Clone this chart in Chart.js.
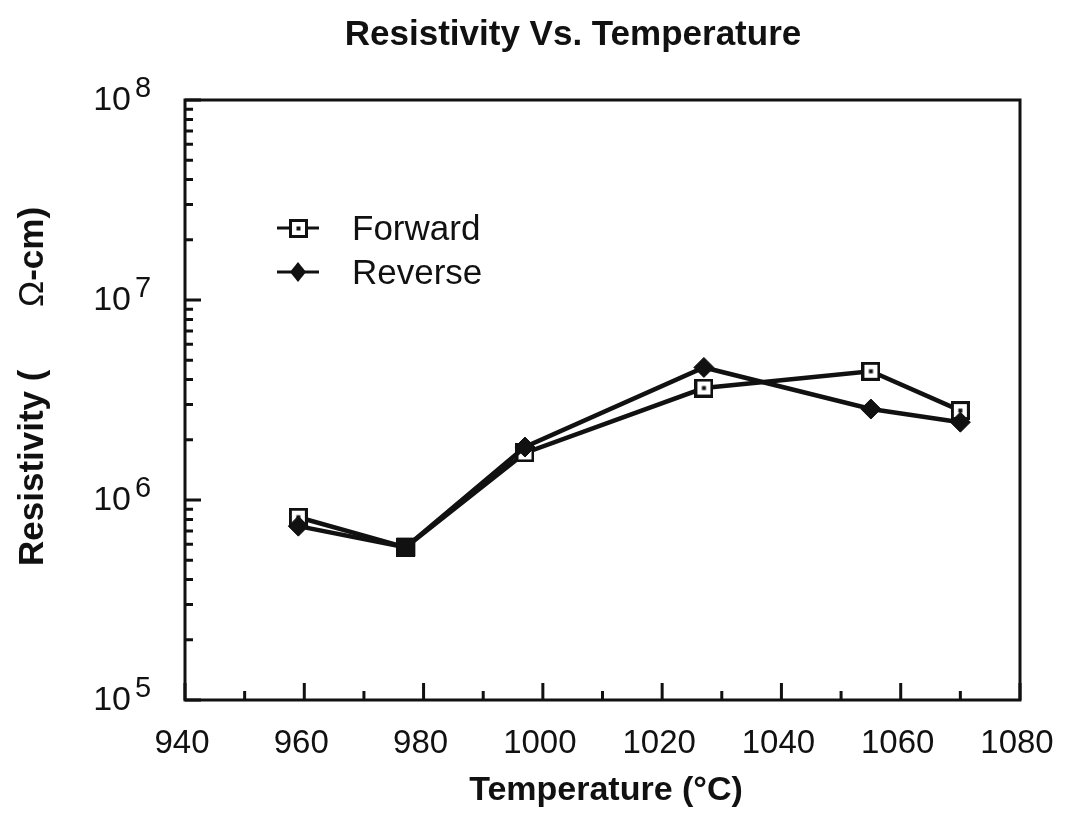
<!DOCTYPE html>
<html>
<head>
<meta charset="utf-8">
<title>Resistivity Vs. Temperature</title>
<script src="https://cdn.jsdelivr.net/npm/chart.js@4.4.1/dist/chart.umd.min.js"></script>
<style>
    body { margin: 0; background: #fff; }
    #wrap { width: 1067px; height: 816px; }
</style>
</head>
<body>
<div id="wrap"><canvas id="resistivity-chart" width="1067" height="816"></canvas></div>
<script>
// Dữ liệu
const temperatures = [959, 977, 997, 1027, 1055, 1070];
const forwardValues = [8.2e5, 5.8e5, 1.72e6, 3.63e6, 4.4e6, 2.8e6];
const reverseValues = [7.4e5, 5.8e5, 1.84e6, 4.6e6, 2.85e6, 2.45e6];
const xTickValues = [940, 960, 980, 1000, 1020, 1040, 1060, 1080];
const xMinorTicks = [950, 970, 990, 1010, 1030, 1050, 1070];
const yExponents = [5, 6, 7, 8];

const FONT = '"Liberation Sans", Arial, Helvetica, sans-serif';

// Marker hình vuông rỗng có chấm giữa
function makeOpenSquare(size) {
    const c = document.createElement("canvas");
    c.width = size;
    c.height = size;
    const g = c.getContext("2d");
    g.fillStyle = "#fff";
    g.fillRect(0, 0, size, size);
    g.strokeStyle = "#111";
    g.lineWidth = 3;
    g.strokeRect(1.5, 1.5, size - 3, size - 3);
    g.fillStyle = "#111";
    g.fillRect(size / 2 - 2, size / 2 - 2, 4, 4);
    return c;
}
const squareMarker = makeOpenSquare(19);

// Vẽ khung, vạch chia, nhãn và chú thích
const decorPlugin = {
    id: "decor",
    beforeDatasetsDraw(chart) {
        const { ctx, chartArea: a, scales } = chart;
        const x = scales.x, y = scales.y;
        ctx.save();
        ctx.strokeStyle = "#111";
        ctx.lineWidth = 3;
        ctx.strokeRect(a.left, a.top, a.right - a.left, a.bottom - a.top);

        // vạch trục x (hướng vào trong)
        ctx.beginPath();
        xTickValues.forEach(v => {
            const px = x.getPixelForValue(v);
            ctx.moveTo(px, a.bottom);
            ctx.lineTo(px, a.bottom - 17);
        });
        xMinorTicks.forEach(v => {
            const px = x.getPixelForValue(v);
            ctx.moveTo(px, a.bottom);
            ctx.lineTo(px, a.bottom - 9);
        });
        // vạch trục y log
        yExponents.forEach(e => {
            const py = y.getPixelForValue(Math.pow(10, e));
            ctx.moveTo(a.left, py);
            ctx.lineTo(a.left + 16, py);
            if (e < 8) {
                for (let m = 2; m <= 9; m++) {
                    const pm = y.getPixelForValue(m * Math.pow(10, e));
                    ctx.moveTo(a.left, pm);
                    ctx.lineTo(a.left + 8, pm);
                }
            }
        });
        ctx.stroke();

        // nhãn trục x
        ctx.fillStyle = "#111";
        ctx.font = "33px " + FONT;
        ctx.textAlign = "center";
        ctx.textBaseline = "alphabetic";
        xTickValues.forEach(v => {
            ctx.fillText(String(v), x.getPixelForValue(v) - 3, 753);
        });

        // nhãn trục y dạng 10^n
        yExponents.forEach(e => {
            const py = y.getPixelForValue(Math.pow(10, e));
            ctx.font = "34px " + FONT;
            ctx.textAlign = "right";
            ctx.fillText("10", 131, py + 10);
            ctx.font = "29px " + FONT;
            ctx.textAlign = "left";
            ctx.fillText(String(e), 135, py - 3);
        });

        // tiêu đề
        ctx.font = "bold 35px " + FONT;
        ctx.textAlign = "center";
        ctx.fillText("Resistivity Vs. Temperature", 573, 45);
        ctx.font = "bold 34px " + FONT;
        ctx.fillText("Temperature (°C)", 606, 800);

        // tiêu đề trục y (xoay)
        ctx.save();
        ctx.translate(43, 566);
        ctx.rotate(-Math.PI / 2);
        ctx.textAlign = "left";
        ctx.font = "bold 35px " + FONT;
        ctx.fillText("Resistivity (", 0, 0);
        ctx.font = "35px " + FONT;
        ctx.fillText("Ω", 259, 0);
        const wOmega = ctx.measureText("Ω").width;
        ctx.font = "bold 35px " + FONT;
        ctx.fillText("-cm)", 259 + wOmega, 0);
        ctx.restore();

        // chú thích
        ctx.lineWidth = 3;
        ctx.beginPath();
        ctx.moveTo(277, 228); ctx.lineTo(319, 228);
        ctx.moveTo(277, 272); ctx.lineTo(319, 272);
        ctx.stroke();
        ctx.drawImage(squareMarker, 298 - 9, 228 - 9);
        ctx.beginPath();
        ctx.moveTo(298, 262); ctx.lineTo(306, 272); ctx.lineTo(298, 282); ctx.lineTo(290, 272);
        ctx.closePath();
        ctx.fill();
        ctx.font = "35px " + FONT;
        ctx.textAlign = "left";
        ctx.fillText("Forward", 352, 240);
        ctx.fillText("Reverse", 352, 284);
        ctx.restore();
    }
};

const ctx = document.getElementById("resistivity-chart").getContext("2d");

new Chart(ctx, {
    type: "line",
    data: {
        datasets: [
            {
                label: "Forward",
                data: temperatures.map((t, i) => ({ x: t, y: forwardValues[i] })),
                borderColor: "#111",
                borderWidth: 4.5,
                pointStyle: squareMarker,
                pointRadius: 9,
                tension: 0,
                order: 1
            },
            {
                label: "Reverse",
                data: temperatures.map((t, i) => ({ x: t, y: reverseValues[i] })),
                borderColor: "#111",
                backgroundColor: "#111",
                borderWidth: 4.5,
                pointStyle: ["rectRot", "rect", "rectRot", "rectRot", "rectRot", "rectRot"],
                pointRadius: [10, 13, 10, 10, 10, 10],
                pointBorderWidth: 1,
                pointBackgroundColor: "#111",
                tension: 0,
                order: 0
            }
        ]
    },
    options: {
        responsive: false,
        animation: false,
        layout: { padding: { left: 185, top: 100, right: 47, bottom: 116 } },
        plugins: {
            legend: { display: false },
            tooltip: { enabled: false }
        },
        scales: {
            x: { type: "linear", min: 940, max: 1080, display: false },
            y: { type: "logarithmic", min: 1e5, max: 1e8, display: false }
        }
    },
    plugins: [decorPlugin]
});
</script>
</body>
</html>
